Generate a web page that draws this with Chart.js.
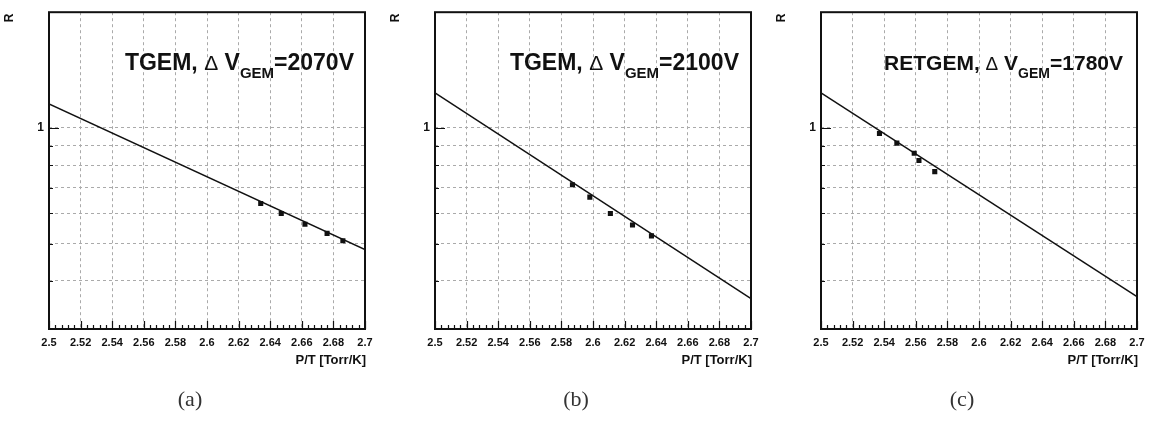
<!DOCTYPE html>
<html>
<head>
<meta charset="utf-8">
<script src="https://cdn.jsdelivr.net/npm/chart.js@4"></script>
<style>
  body { margin: 0; background: #fff; }
  .panel { position: absolute; top: 0; width: 385px; height: 423px; }
</style>
</head>
<body>
<div class="panel" style="left:0px"><canvas id="chartA" width="385" height="423"></canvas></div>
<div class="panel" style="left:386px"><canvas id="chartB" width="385" height="423"></canvas></div>
<div class="panel" style="left:772px"><canvas id="chartC" width="385" height="423"></canvas></div>
<script>
// measured points, P/T vs R
var ptsA_x = [2.634, 2.647, 2.662, 2.676, 2.686];
var ptsA_r = [0.636, 0.599, 0.562, 0.532, 0.509];
var ptsB_x = [2.587, 2.598, 2.611, 2.625, 2.637];
var ptsB_r = [0.712, 0.661, 0.599, 0.559, 0.524];
var ptsC_x = [2.537, 2.548, 2.559, 2.562, 2.572];
var ptsC_r = [0.967, 0.913, 0.859, 0.823, 0.770];

// fit lines (end points)
var fit_x = [2.5, 2.7];
var fitA_r = [1.155, 0.483];
var fitB_r = [1.233, 0.360];
var fitC_r = [1.233, 0.364];

// axis ticks
var xTicks = [2.5, 2.52, 2.54, 2.56, 2.58, 2.6, 2.62, 2.64, 2.66, 2.68, 2.7];
var yTicks = [0.4, 0.5, 0.6, 0.7, 0.8, 0.9, 1];

var labels = ['(a)', '(b)', '(c)'];
var detectors = ['TGEM,', 'TGEM,', 'RETGEM,'];
var voltages = ['=2070V', '=2100V', '=1780V'];

function toPts(xs, ys) {
    var out = [];
    for (var i = 0; i < xs.length; i++) out.push({x: xs[i], y: ys[i]});
    return out;
}

// frame, inward ticks and texts
var rootStyle = {
    id: 'rootStyle',
    afterDraw: function (chart) {
        var c = chart.ctx;
        var a = chart.chartArea;
        var xs = chart.scales.x, ys = chart.scales.y;
        var o = chart.options.plugins.rootStyle;
        c.save();
        c.strokeStyle = '#111';
        // x ticks, minor every 0.004
        c.lineWidth = 1.2;
        c.beginPath();
        for (var i = 0; i <= 50; i++) {
            var v = 2.5 + i * 0.004;
            var px = Math.round(xs.getPixelForValue(v)) + 0.5;
            var len = (i % 5 === 0) ? 8 : 4;
            c.moveTo(px, a.bottom);
            c.lineTo(px, a.bottom - len);
        }
        // y ticks
        yTicks.forEach(function (t) {
            var py = Math.round(ys.getPixelForValue(t)) + 0.5;
            c.moveTo(a.left, py);
            c.lineTo(a.left + (t === 1 ? 10 : 4), py);
        });
        c.stroke();
        // frame
        c.lineWidth = 2;
        c.strokeRect(a.left, a.top, a.right - a.left, a.bottom - a.top);

        // annotation text
        c.fillStyle = '#111';
        c.textBaseline = 'alphabetic';
        var fs = o.size;
        var parts = [
            {t: o.det + ' ', f: 'bold ' + fs + 'px "Liberation Sans", Arial', dy: 0},
            {t: '\u0394', f: fs - 2 + 'px "Liberation Sans", Arial', dy: 0},
            {t: ' V', f: 'bold ' + fs + 'px "Liberation Sans", Arial', dy: 0},
            {t: 'GEM', f: 'bold ' + Math.round(fs * 0.65) + 'px "Liberation Sans", Arial', dy: 8},
            {t: o.volt, f: 'bold ' + fs + 'px "Liberation Sans", Arial', dy: 0}
        ];
        var total = 0;
        parts.forEach(function (p) { c.font = p.f; p.w = c.measureText(p.t).width; total += p.w; });
        var x = o.right - total;
        parts.forEach(function (p) {
            c.font = p.f;
            c.textAlign = 'left';
            c.fillText(p.t, x, 70 + p.dy);
            x += p.w;
        });

        // axis titles
        c.font = 'bold 13px "Liberation Sans", Arial';
        c.textAlign = 'right';
        c.textBaseline = 'middle';
        c.fillText('P/T [Torr/K]', a.right + 1, 360);
        c.save();
        c.translate(10, 18);
        c.rotate(-Math.PI / 2);
        c.textAlign = 'center';
        c.font = 'bold 12px "Liberation Sans", Arial';
        c.fillText('R', 0, 0);
        c.restore();

        // panel letter
        c.font = '22px "Liberation Serif", "Times New Roman", serif';
        c.fillStyle = '#333';
        c.textAlign = 'center';
        c.fillText(o.letter, 190, 400);
        c.restore();
    }
};

function makeChart(id, px, pr, fr, idx, size, right) {
    var ctx = document.getElementById(id).getContext('2d');
    return new Chart(ctx, {
        type: 'scatter',
        data: {
            datasets: [{
                type: 'line',
                data: toPts(fit_x, fr),
                borderColor: '#111',
                borderWidth: 1.5,
                pointRadius: 0,
                fill: false
            }, {
                type: 'scatter',
                data: toPts(px, pr),
                pointStyle: 'rect',
                pointRadius: 3.6,
                backgroundColor: '#111',
                borderColor: '#111',
                borderWidth: 0
            }]
        },
        options: {
            responsive: false,
            animation: false,
            layout: { padding: { top: 11, right: 20, left: 0, bottom: 0 } },
            plugins: {
                legend: { display: false },
                tooltip: { enabled: false },
                rootStyle: { det: detectors[idx], volt: voltages[idx], letter: labels[idx], size: size, right: right }
            },
            scales: {
                x: {
                    type: 'linear',
                    min: 2.5,
                    max: 2.7,
                    afterBuildTicks: function (s) { s.ticks = xTicks.map(function (v) { return {value: v}; }); },
                    afterFit: function (s) { s.height = 94; },
                    ticks: {
                        padding: 7,
                        color: '#111',
                        font: { family: '"Liberation Sans", Arial', size: 11, weight: 'bold' },
                        maxRotation: 0,
                        autoSkip: false,
                        callback: function (v) { return String(Number(v.toFixed(2))); }
                    },
                    grid: { color: '#aaa', lineWidth: 1, drawTicks: false },
                    border: { display: false, dash: [3, 3] }
                },
                y: {
                    type: 'logarithmic',
                    min: 0.3,
                    max: 2,
                    afterBuildTicks: function (s) { s.ticks = yTicks.map(function (v) { return {value: v}; }); },
                    afterFit: function (s) { s.width = 49; },
                    ticks: {
                        padding: 5,
                        color: '#111',
                        font: { family: '"Liberation Sans", Arial', size: 12, weight: 'bold' },
                        autoSkip: false,
                        callback: function (v) { return v === 1 ? '1' : ''; }
                    },
                    grid: { color: '#aaa', lineWidth: 1, drawTicks: false },
                    border: { display: false, dash: [3, 3] }
                }
            }
        },
        plugins: [rootStyle]
    });
}

makeChart('chartA', ptsA_x, ptsA_r, fitA_r, 0, 23, 354);
makeChart('chartB', ptsB_x, ptsB_r, fitB_r, 1, 23, 353);
makeChart('chartC', ptsC_x, ptsC_r, fitC_r, 2, 21, 351);
</script>
</body>
</html>
